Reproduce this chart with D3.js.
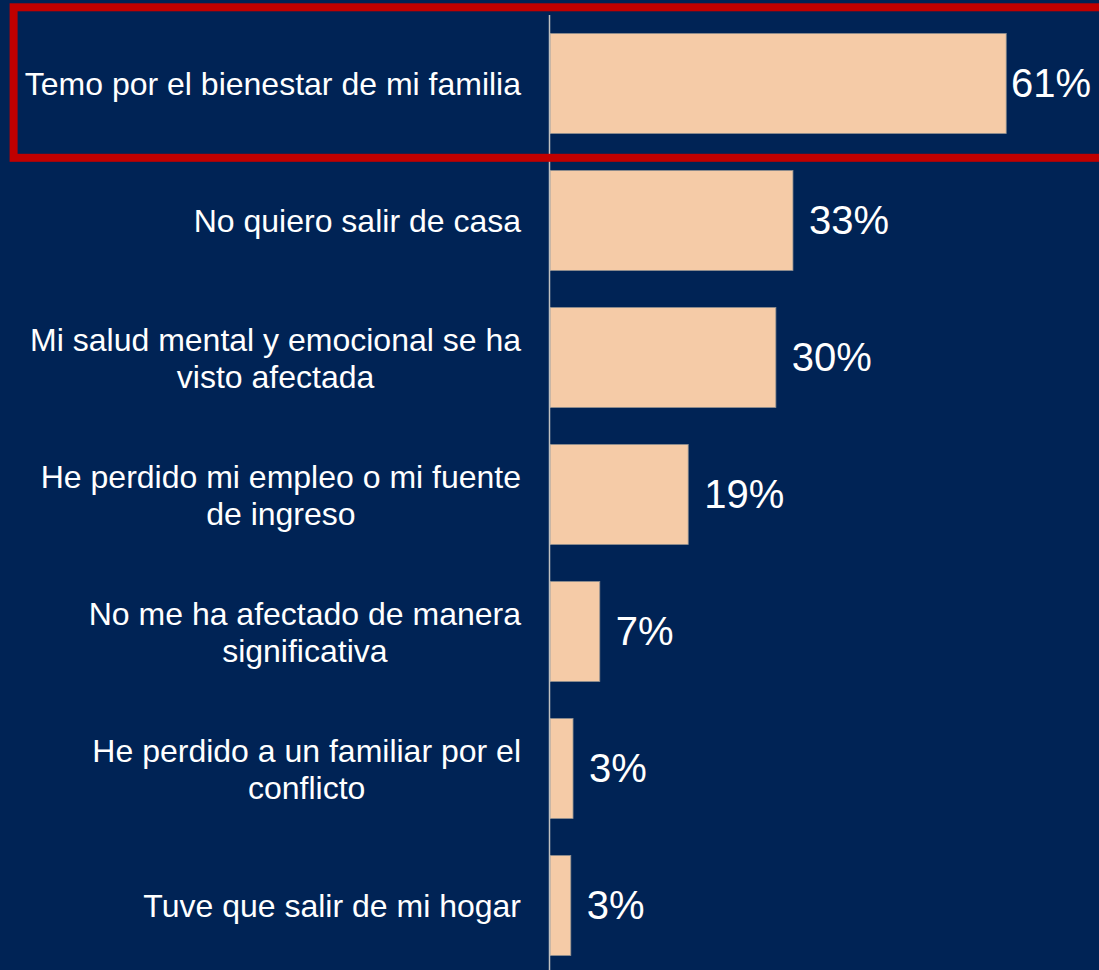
<!DOCTYPE html>
<html>
<head>
<meta charset="utf-8">
<script src="https://cdnjs.cloudflare.com/ajax/libs/d3/7.8.5/d3.min.js"></script>
<style>
  html, body { margin: 0; padding: 0; background: #002355; overflow: hidden; }
  .catText { fill: #ffffff; font-family: "Liberation Sans", Arial, sans-serif; font-size: 32px; }
  .valText { fill: #ffffff; font-family: "Liberation Sans", Arial, sans-serif; font-size: 40px; }
</style>
</head>
<body>
<div id="chart"></div>
<script>
// chart data
var categories = [
  "Temo por el bienestar de mi familia",
  "No quiero salir de casa",
  "Mi salud mental y emocional se ha\nvisto afectada",
  "He perdido mi empleo o mi fuente\nde ingreso",
  "No me ha afectado de manera\nsignificativa",
  "He perdido a un familiar por el\nconflicto",
  "Tuve que salir de mi hogar"
];
var values = [61.4, 32.7, 30.4, 18.6, 6.7, 3.1, 2.8];
var valueLabels = ["61%", "33%", "30%", "19%", "7%", "3%", "3%"];
var highlighted = 0;

var w = 1099;
var h = 970;
var axisX = 550;
var labelRight = 521;
var lineH = 37;

var svg = d3
  .select("#chart")
  .append("svg")
  .attr("width", w)
  .attr("height", h);

svg.append("rect")
  .attr("width", w)
  .attr("height", h)
  .attr("fill", "#002355");

var yScale = d3
  .scaleBand()
  .domain(d3.range(categories.length))
  .range([15, 974])
  .paddingInner(0.27)
  .paddingOuter(0.135);

var xScale = d3
  .scaleLinear()
  .domain([0, 70])
  .range([axisX, axisX + 70 * 7.43]);

// bars
svg.selectAll(".bar")
  .data(values)
  .enter()
  .append("rect")
  .attr("class", "bar")
  .attr("x", xScale(0))
  .attr("y", function(d, i) { return yScale(i); })
  .attr("width", function(d) { return xScale(d) - xScale(0); })
  .attr("height", yScale.bandwidth())
  .attr("fill", "#F5CBA7")
  .attr("stroke", "#8f8f8f")
  .attr("stroke-width", 0.8);

// vertical axis line
svg.append("line")
  .attr("x1", axisX - 0.5)
  .attr("x2", axisX - 0.5)
  .attr("y1", 15)
  .attr("y2", h)
  .attr("stroke", "#c0c0c0")
  .attr("stroke-width", 1.5);

// category labels, lines centered in a right-aligned block
categories.forEach(function(c, i) {
  var lines = c.split("\n");
  var cy = yScale(i) + yScale.bandwidth() / 2;
  var g = svg.append("g");
  var texts = g.selectAll("text")
    .data(lines)
    .enter()
    .append("text")
    .attr("class", "catText")
    .attr("text-anchor", "middle")
    .attr("y", function(d, j) {
      return cy - (lines.length - 1) * lineH / 2 + 11.5 + j * lineH;
    })
    .text(function(d) { return d; });
  var maxW = 0;
  texts.each(function() {
    maxW = Math.max(maxW, this.getComputedTextLength());
  });
  texts.attr("x", labelRight - maxW / 2);
});

// value labels
svg.selectAll(".valText")
  .data(values)
  .enter()
  .append("text")
  .attr("class", "valText")
  .attr("y", function(d, i) { return yScale(i) + yScale.bandwidth() / 2; })
  .attr("dy", "0.34em")
  .text(function(d, i) { return valueLabels[i]; })
  .attr("x", function(d) {
    var tw = this.getComputedTextLength();
    return Math.min(xScale(d) + 16, w - 8 - tw);
  });

// highlight box around the top answer
svg.append("rect")
  .attr("x", 13.6)
  .attr("y", yScale(highlighted) - 26.2)
  .attr("width", w + 20)
  .attr("height", yScale.bandwidth() + 50.5)
  .attr("fill", "none")
  .attr("stroke", "#C00000")
  .attr("stroke-width", 8);
</script>
</body>
</html>
